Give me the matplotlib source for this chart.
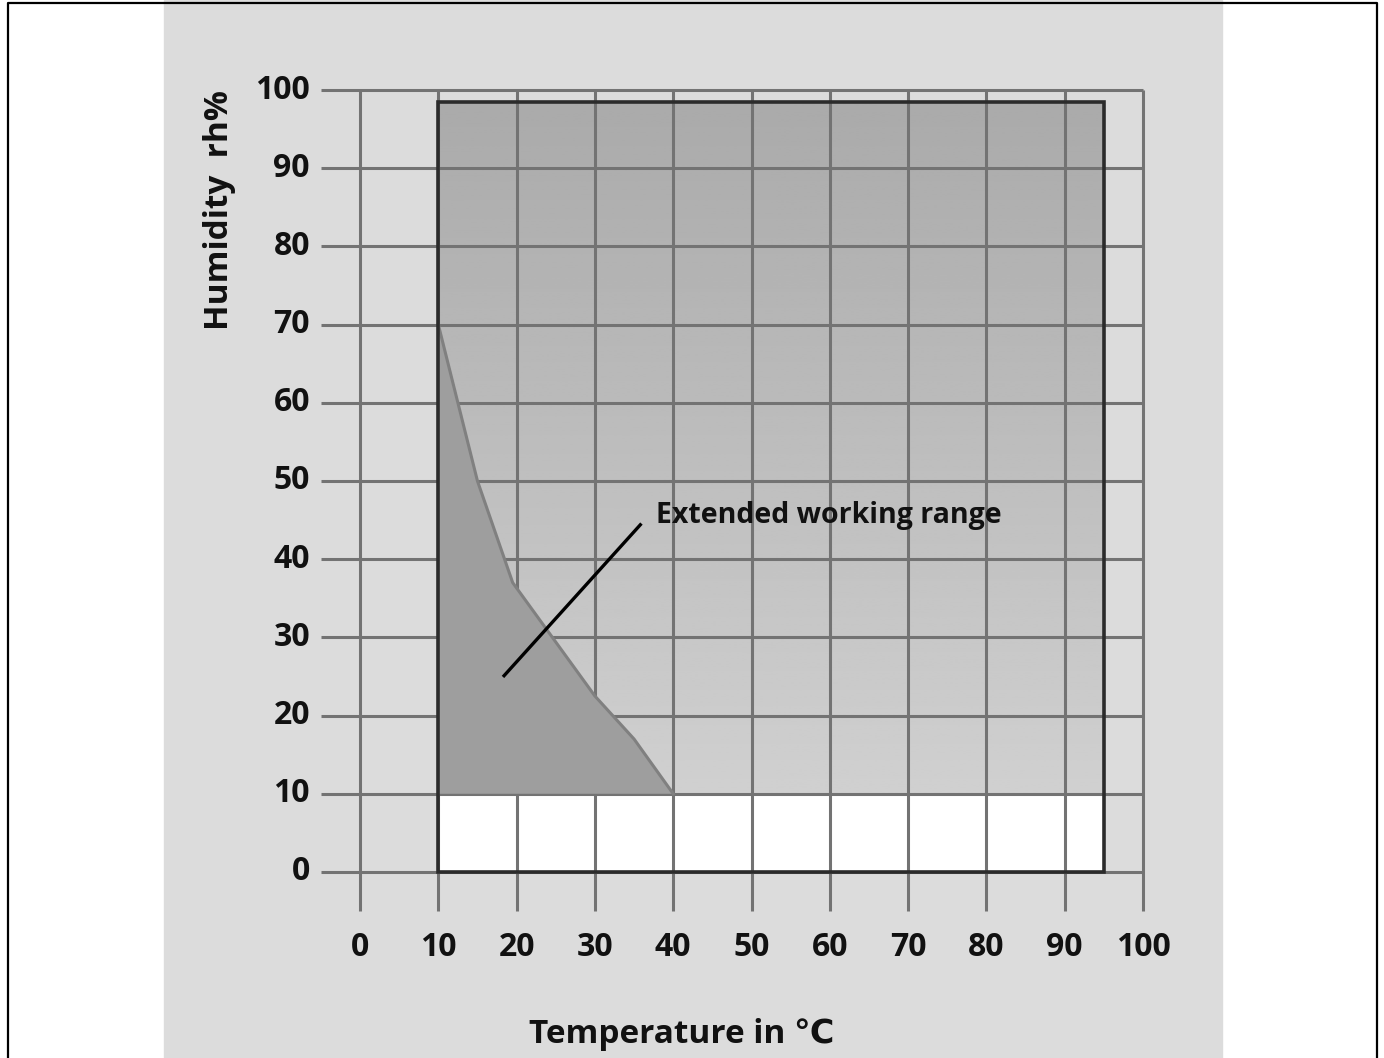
import numpy as np
from matplotlib import pyplot as plt
from matplotlib.patches import Rectangle, Polygon

# Данные графика
temp_ticks = [0, 10, 20, 30, 40, 50, 60, 70, 80, 90, 100]
hum_ticks = [0, 10, 20, 30, 40, 50, 60, 70, 80, 90, 100]

# Рабочая область (температура, влажность)
range_temp = [10, 95]
range_hum = [0, 98.5]
min_hum = 10

# Расширенная рабочая область
ext_temp = [10, 10, 15, 19.5, 30, 35, 40]
ext_hum = [10, 70, 50, 37, 22.5, 17, 10]

annot_text = 'Extended working range'
annot_line_temp = [18.4, 35.8]
annot_line_hum = [25.1, 44.4]

GRID = '#737373'
tick_font = dict(family=['Open Sans', 'DejaVu Sans'], fontweight='bold', fontsize=23, color='#111111')
label_font = dict(family=['Open Sans', 'DejaVu Sans'], fontweight='bold', fontsize=24, color='#111111')

fig = plt.figure(figsize=(13.84, 10.58), dpi=100)
ax = fig.add_axes([0, 0, 1, 1])
ax.set_xlim(-45.98, 130.78)
ax.set_ylim(-23.79, 111.51)
ax.axis('off')

# Серая подложка и рамка
ax.axvspan(-25.0, 110.1, color='#dcdcdc', zorder=0)
ax.plot([-44.96, -44.96, 129.9, 129.9], [-30, 111.1, 111.1, -30], color='black', lw=1.6, zorder=6)

# Градиент рабочей области
grad = np.linspace(170, 208, 256).reshape(-1, 1) / 255.0
ax.imshow(grad, extent=[range_temp[0], range_temp[1], min_hum, range_hum[1]], origin='upper',
          cmap='gray', vmin=0, vmax=1, aspect='auto', zorder=1)
ax.add_patch(Rectangle((range_temp[0], range_hum[0]), range_temp[1] - range_temp[0], min_hum - range_hum[0],
                       facecolor='white', edgecolor='none', zorder=1))

# Сетка
ax.hlines(hum_ticks, -5, 100, color=GRID, lw=2.2, zorder=2)
ax.vlines(temp_ticks, -5, 100, color=GRID, lw=2.2, zorder=2)

# Расширенная область
ax.add_patch(Polygon(np.column_stack([ext_temp, ext_hum]), closed=True, facecolor='#9e9e9e',
                     edgecolor='none', zorder=3))
ax.plot(ext_temp[1:], ext_hum[1:], color='#808080', lw=2.2, zorder=3)

# Контур рабочей области
ax.add_patch(Rectangle((range_temp[0], range_hum[0]), range_temp[1] - range_temp[0], range_hum[1] - range_hum[0],
                       facecolor='none', edgecolor='#2b2b2b', lw=2.6, zorder=4))

# Подпись
ax.plot(annot_line_temp, annot_line_hum, color='black', lw=2.4, zorder=5)
ax.text(37.8, 44.6, annot_text, family=['Open Sans', 'DejaVu Sans'], fontweight='bold',
        fontsize=20.5, color='#111111', va='baseline', ha='left', zorder=5)

# Подписи осей
for t in temp_ticks:
    ax.text(t, -9.7, str(t), ha='center', va='center', **tick_font)
for h in hum_ticks:
    ax.text(-6.4, h, str(h), ha='right', va='center', **tick_font)

ax.text(41.1, -21.9, 'Temperature in ℃', ha='center', va='baseline', **label_font)
ax.text(-18.0, 84.7, 'Humidity  rh%', ha='center', va='center', rotation=90, **label_font)

plt.savefig('out.png', dpi=100)
